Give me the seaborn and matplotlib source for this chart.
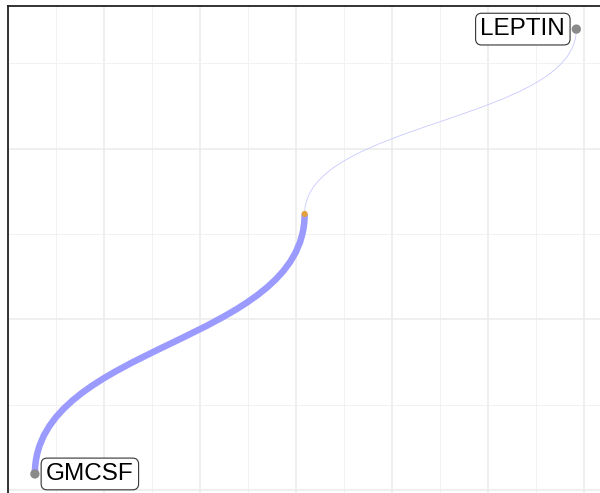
import matplotlib
matplotlib.use("Agg")

import matplotlib.pyplot as plt
import seaborn as sns
import pandas as pd
from matplotlib.path import Path
from matplotlib.patches import PathPatch

# node layout (x, y in layout units)
node_names = ["GMCSF", "", "LEPTIN"]
node_x = [0.28, 3.09, 5.92]
node_y = [0.094, 1.617, 2.70]
node_kind = ["gene", "hub", "gene"]

# edges between nodes
edge_from = [0, 1]
edge_to = [1, 2]
edge_width = [4.7, 0.6]
edge_color = ["#9b9bff", "#c9c9ff"]


def diagonal(x0, y0, x1, y1):
    ym = (y0 + y1) / 2
    verts = [(x0, y0), (x0, ym), (x1, ym), (x1, y1)]
    codes = [Path.MOVETO, Path.CURVE4, Path.CURVE4, Path.CURVE4]
    return Path(verts, codes)


def main():
    sns.set_style("white")
    plt.rcParams["font.family"] = ["Liberation Sans", "DejaVu Sans"]

    fig = plt.figure(figsize=(6.0, 4.93), dpi=100)
    ax = fig.add_axes([8 / 600, 0, 592 / 600, 1 - 6 / 493])

    for a, b, w, c in zip(edge_from, edge_to, edge_width, edge_color):
        p = diagonal(node_x[a], node_y[a], node_x[b], node_y[b])
        ax.add_patch(PathPatch(p, facecolor="none", edgecolor=c, lw=w,
                               capstyle="butt", zorder=2))

    nodes = pd.DataFrame({"x": node_x, "y": node_y, "kind": node_kind, "name": node_names})
    sns.scatterplot(data=nodes, x="x", y="y", hue="kind", size="kind",
                    palette={"gene": "#8a8a8a", "hub": "#e3a03c"},
                    sizes={"gene": 45, "hub": 20},
                    linewidth=0, legend=False, ax=ax, zorder=3)

    box = dict(boxstyle="round,pad=0.2,rounding_size=0.25", fc="white", ec="#333333", lw=0.8)
    for i, name in enumerate(node_names):
        if not name:
            continue
        right = node_x[i] > 3
        ax.annotate(name, (node_x[i], node_y[i]),
                    xytext=(-8 if right else 8, 0), textcoords="offset points",
                    ha="right" if right else "left", va="center",
                    fontsize=17.5, color="black", bbox=box, zorder=4)

    ax.set_xlim(0, 592 / 96)
    ax.set_ylim(-3 / 170.7, 484 / 170.7)
    ax.set_xticks([0, 1, 2, 3, 4, 5, 6])
    ax.set_xticks([0.5, 1.5, 2.5, 3.5, 4.5, 5.5], minor=True)
    ax.set_yticks([0, 1, 2])
    ax.set_yticks([0.5, 1.5, 2.5], minor=True)
    ax.grid(which="major", color="#ebebeb", lw=1.1)
    ax.grid(which="minor", color="#f2f2f2", lw=0.7)
    ax.set_axisbelow(True)
    ax.tick_params(which="both", length=0, labelleft=False, labelbottom=False)
    ax.set_xlabel("")
    ax.set_ylabel("")
    for side in ["right", "bottom"]:
        ax.spines[side].set_visible(False)
    for side in ["left", "top"]:
        ax.spines[side].set_color("#222222")
        ax.spines[side].set_linewidth(1.3)

    fig.savefig("out.png", dpi=100)
    plt.close(fig)


if __name__ == "__main__":
    main()
